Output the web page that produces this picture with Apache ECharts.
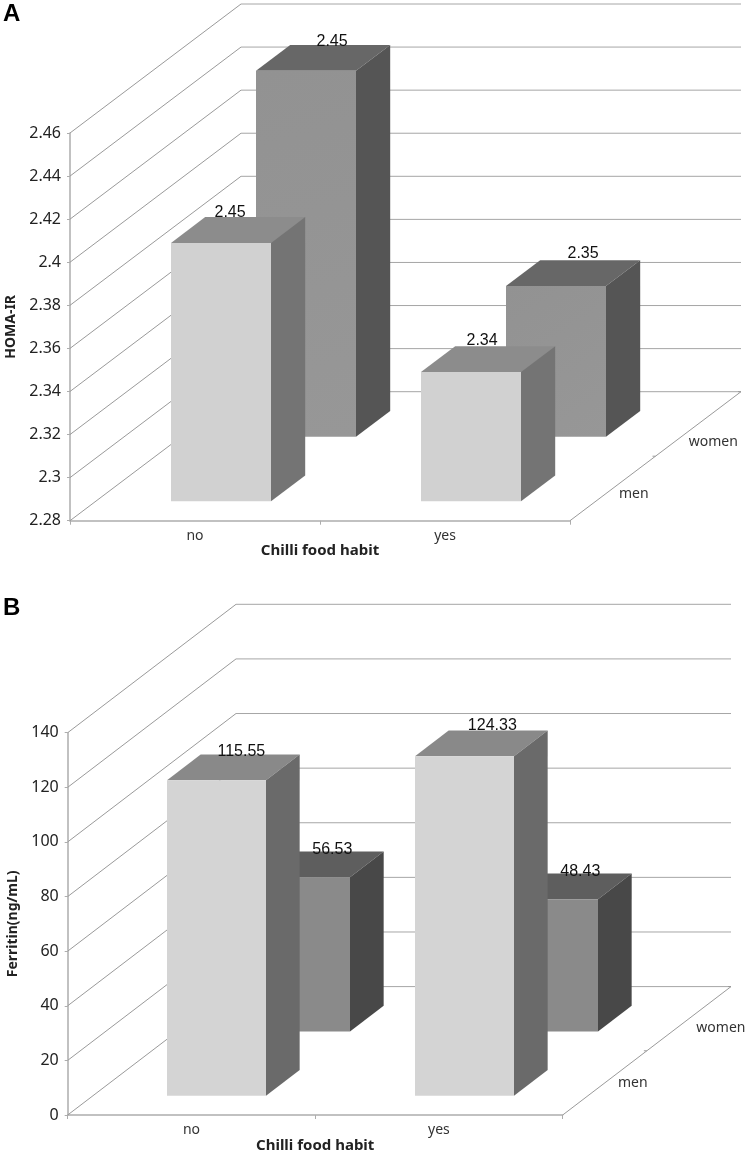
<!DOCTYPE html>
<html><head><meta charset="utf-8">
<style>html,body{margin:0;padding:0;background:#fff}#c{width:750px;height:1153px}</style>
<script src="https://cdn.jsdelivr.net/npm/echarts@6/dist/echarts.min.js"></script>
</head><body><div id="c"></div>
<script>
// ---- data ----
const categories = ['no', 'yes'];
const depthNames = ['men', 'women'];
const homaMen = [2.40, 2.34];
const homaWomen = [2.45, 2.35];
const homaMenLabels = ['2.45', '2.34'];
const homaWomenLabels = ['2.45', '2.35'];
const ferritinMen = [115.55, 124.33];
const ferritinWomen = [56.53, 48.43];
const ferritinMenLabels = ['115.55', '124.33'];
const ferritinWomenLabels = ['56.53', '48.43'];
const homaTicks = [2.28, 2.30, 2.32, 2.34, 2.36, 2.38, 2.40, 2.42, 2.44, 2.46];
const ferritinTicks = [0, 20, 40, 60, 80, 100, 120, 140];

// ---- layout and style ----
const panelA = {
  grid: {left: 70, top: 133, width: 500, height: 387.7, outerBoundsMode: 'none'},
  depth: [171, -129], name: 'HOMA-IR', min: 2.28, max: 2.46, interval: 0.02, ticks: homaTicks,
  men: homaMen, women: homaWomen, menLabels: homaMenLabels, womenLabels: homaWomenLabels,
  menNudge: [[-8, -17], [-6, -19]], womenNudge: [[9, -16], [10, -20]],
  depthNudge: [[21, 5.5], [15, 18]],
  menCol: {front: '#d1d1d1', top: '#8c8c8c', side: '#747474'},
  womenCol: {front: '#929292', front2: '#979797', top: '#676767', side: '#555555'},
  nameGap: 51, xNameGap: 21
};
const panelB = {
  grid: {left: 67.7, top: 732.7, width: 495, height: 382.3, outerBoundsMode: 'none'},
  depth: [168.3, -128.4], name: 'Ferritin(ng/mL)', min: 0, max: 140, interval: 20, ticks: ferritinTicks,
  men: ferritinMen, women: ferritinWomen, menLabels: ferritinMenLabels, womenLabels: ferritinWomenLabels,
  menNudge: [[8, -16], [11, -18]], womenNudge: [[15, -15], [15, -15]],
  depthNudge: [[28, 0], [32, 9]],
  menCol: {front: '#d4d4d4', top: '#898989', side: '#6a6a6a'},
  womenCol: {front: '#8a8a8a', front2: '#8a8a8a', top: '#5e5e5e', side: '#484848'},
  nameGap: 48, xNameGap: 23
};
const ROW = {men: 0.15, women: 0.65};
const ROW_DEPTH = 0.2;
const BAR_SHARE = 0.4;
const LINE = '#a6a6a6', DIAG = '#9a9a9a', AXIS = '#adadad';
const TICK_FONT = '"Noto Sans"', LABEL_FONT = '"Liberation Sans"';

function wallSeries(p, i) {
  return {
    type: 'custom', xAxisIndex: i, yAxisIndex: i, silent: true, z: 1,
    data: p.ticks.map(v => [0, v]),
    encode: {x: 0, y: 1},
    renderItem(params, api) {
      const r = params.coordSys;
      const y = api.coord([0, api.value(1)])[1];
      return {type: 'group', children: [
        {type: 'line', shape: {x1: r.x, y1: y, x2: r.x + p.depth[0], y2: y + p.depth[1]}, style: {stroke: DIAG, lineWidth: 1}},
        {type: 'line', shape: {x1: r.x + p.depth[0], y1: y + p.depth[1], x2: r.x + r.width + p.depth[0], y2: y + p.depth[1]}, style: {stroke: LINE, lineWidth: 1}}
      ]};
    }
  };
}
function barSeries(p, i, vals, labels, nudges, rowKey, col) {
  const t0 = ROW[rowKey];
  return {
    type: 'custom', xAxisIndex: i, yAxisIndex: i, silent: true, z: rowKey === 'men' ? 4 : 3,
    data: vals.map((v, k) => [k, v]),
    encode: {x: 0, y: 1},
    renderItem(params, api) {
      const k = api.value(0), top = api.coord([k, api.value(1)]), base = api.coord([k, p.min]);
      const w = api.size([1, 0])[0] * BAR_SHARE;
      const ox = p.depth[0] * t0, oy = p.depth[1] * t0;
      const dx = p.depth[0] * ROW_DEPTH, dy = p.depth[1] * ROW_DEPTH;
      const l = Math.round(top[0] - w / 2 + ox), rr = Math.round(l + w), ty = top[1] + oy, by = base[1] + oy;
      const n = nudges[k];
      const front = col.front2 ? {type: 'linear', x: 0, y: 0, x2: 1, y2: 1, colorStops: [{offset: 0, color: col.front}, {offset: 1, color: col.front2}]} : col.front;
      return {type: 'group', children: [
        {type: 'polygon', shape: {points: [[l, ty], [rr, ty], [rr + dx, ty + dy], [l + dx, ty + dy]]}, style: {fill: col.top}},
        {type: 'polygon', shape: {points: [[rr, ty], [rr + dx, ty + dy], [rr + dx, by + dy], [rr, by]]}, style: {fill: col.side}},
        {type: 'rect', shape: {x: l, y: ty, width: rr - l, height: by - ty}, style: {fill: front}},
        {type: 'text', x: (l + rr + dx) / 2 + n[0], y: ty + dy / 2 + n[1], style: {text: labels[k], font: '16px ' + LABEL_FONT, fill: '#111', align: 'center', verticalAlign: 'middle'}, z2: 10}
      ]};
    }
  };
}
function depthSeries(p, i) {
  return {
    type: 'custom', xAxisIndex: i, yAxisIndex: i, silent: true, z: 2,
    data: depthNames.map((n, k) => [k, p.min]),
    encode: {x: 0, y: 1},
    renderItem(params, api) {
      const r = params.coordSys, k = api.value(0);
      const x0 = r.x + r.width, y0 = r.y + r.height;
      const t = 0.25 + 0.5 * k, n = p.depthNudge[k];
      const kids = [{type: 'text', x: x0 + p.depth[0] * t + n[0], y: y0 + p.depth[1] * t + n[1],
        style: {text: depthNames[k], font: '14px ' + TICK_FONT, fill: '#333', align: 'center', verticalAlign: 'middle'}}];
      const tickAt = f => ({type: 'line', shape: {x1: x0 + p.depth[0] * f - 3, y1: y0 + p.depth[1] * f, x2: x0 + p.depth[0] * f, y2: y0 + p.depth[1] * f}, style: {stroke: DIAG, lineWidth: 1}});
      kids.push(tickAt(k === 0 ? 0.5 : 1));
      if (k === 0) kids.push({type: 'line', shape: {x1: x0, y1: y0, x2: x0 + p.depth[0], y2: y0 + p.depth[1]}, style: {stroke: DIAG, lineWidth: 1}});
      return {type: 'group', children: kids};
    }
  };
}
const panels = [panelA, panelB];
const option = {
  animation: false, backgroundColor: '#fff',
  graphic: [
    {type: 'text', left: 3, top: 2, style: {text: 'A', font: 'bold 24px ' + LABEL_FONT, fill: '#000'}},
    {type: 'text', left: 3, top: 596, style: {text: 'B', font: 'bold 24px ' + LABEL_FONT, fill: '#000'}}
  ],
  grid: panels.map(p => p.grid),
  xAxis: panels.map((p, i) => ({
    type: 'category', gridIndex: i, data: categories, boundaryGap: true,
    name: 'Chilli food habit', nameLocation: 'middle', nameGap: p.xNameGap,
    nameTextStyle: {fontFamily: TICK_FONT, fontSize: 15, fontWeight: 'bold', color: '#222'},
    axisLine: {lineStyle: {color: AXIS, width: 1.5}},
    axisTick: {show: true, length: 4, lineStyle: {color: AXIS}},
    axisLabel: {fontFamily: TICK_FONT, fontSize: 14, color: '#333', margin: 8},
    splitLine: {show: false}
  })),
  yAxis: panels.map((p, i) => ({
    type: 'value', gridIndex: i, min: p.min, max: p.max, interval: p.interval,
    name: p.name, nameLocation: 'middle', nameGap: p.nameGap,
    nameTextStyle: {fontFamily: TICK_FONT, fontSize: 14, fontWeight: 'bold', color: '#222'},
    axisLine: {show: true, lineStyle: {color: AXIS, width: 1.5}},
    axisTick: {show: true, length: 3, lineStyle: {color: AXIS}},
    axisLabel: {fontFamily: TICK_FONT, fontSize: 16, color: '#222', margin: 9},
    splitLine: {show: false}
  })),
  series: panels.flatMap((p, i) => [
    wallSeries(p, i),
    depthSeries(p, i),
    barSeries(p, i, p.women, p.womenLabels, p.womenNudge, 'women', p.womenCol),
    barSeries(p, i, p.men, p.menLabels, p.menNudge, 'men', p.menCol)
  ])
};
echarts.init(document.getElementById('c'), null, {renderer: 'canvas'}).setOption(option);
</script></body></html>
